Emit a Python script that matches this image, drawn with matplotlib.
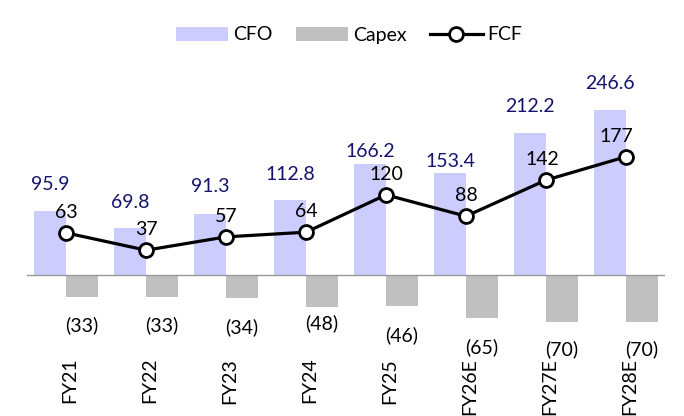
import numpy as np
import matplotlib
matplotlib.use('Agg')
import matplotlib.pyplot as plt

plt.rcParams['font.family'] = ['Lato', 'DejaVu Sans']

years = ['FY21', 'FY22', 'FY23', 'FY24', 'FY25', 'FY26E', 'FY27E', 'FY28E']
cfo = [95.9, 69.8, 91.3, 112.8, 166.2, 153.4, 212.2, 246.6]
capex = [-33, -33, -34, -48, -46, -65, -70, -70]
fcf = [63, 37, 57, 64, 120, 88, 142, 177]

# label placement (data units)
cfo_gap = [39, 38, 41, 37, 19, 16, 40, 40]
capex_lab_y = [-75, -75, -78, -72, -90, -108, -111, -111]
fcf_dx = [0, 0, 0, 0, 0, 0, -0.04, -0.12]

x = np.arange(len(years))
w = 0.4
fs = 14

fig = plt.figure(figsize=(6.84, 4.16), dpi=100)
ax = fig.add_axes([27 / 684, 61 / 416, 638 / 684, 295 / 416])

b1 = ax.bar(x - w / 2, cfo, w, color='#CCCCFF', label='CFO', zorder=1)
b2 = ax.bar(x + w / 2, capex, w, color='#C0C0C0', label='Capex', zorder=1)
ax.axhline(0, color='#999999', lw=1, zorder=2)
l1, = ax.plot(x, fcf, color='black', lw=2.3, marker='o', ms=10, mfc='white',
              mec='black', mew=2, label='FCF', zorder=3)

for i in range(len(years)):
    ax.text(x[i] - w / 2, cfo[i] + cfo_gap[i], f'{cfo[i]:.1f}', ha='center',
            va='center', color='#14146E', fontsize=fs)
    ax.text(x[i] + w / 2, capex_lab_y[i], f'({-capex[i]})', ha='center',
            va='center', color='black', fontsize=fs)
    ax.text(x[i] + fcf_dx[i], fcf[i] + 31, f'{fcf[i]}', ha='center', va='center',
            color='black', fontsize=fs, zorder=4)

ax.set_xlim(-0.49, 7.49)
ax.set_ylim(-120, 322)
ax.set_xticks(x + 0.05)
ax.set_xticklabels(years, rotation=90, fontsize=fs, va='top')
ax.tick_params(axis='x', length=0, pad=2)
ax.set_yticks([])
for s in ax.spines.values():
    s.set_visible(False)

fig.legend(handles=[b1, b2, l1], loc='center', bbox_to_anchor=(349 / 684, 1 - 35 / 416),
           ncol=3, frameon=False, fontsize=fs, handlelength=2.7, columnspacing=1.2,
           handletextpad=0.25)

plt.savefig('out.png', dpi=100)
